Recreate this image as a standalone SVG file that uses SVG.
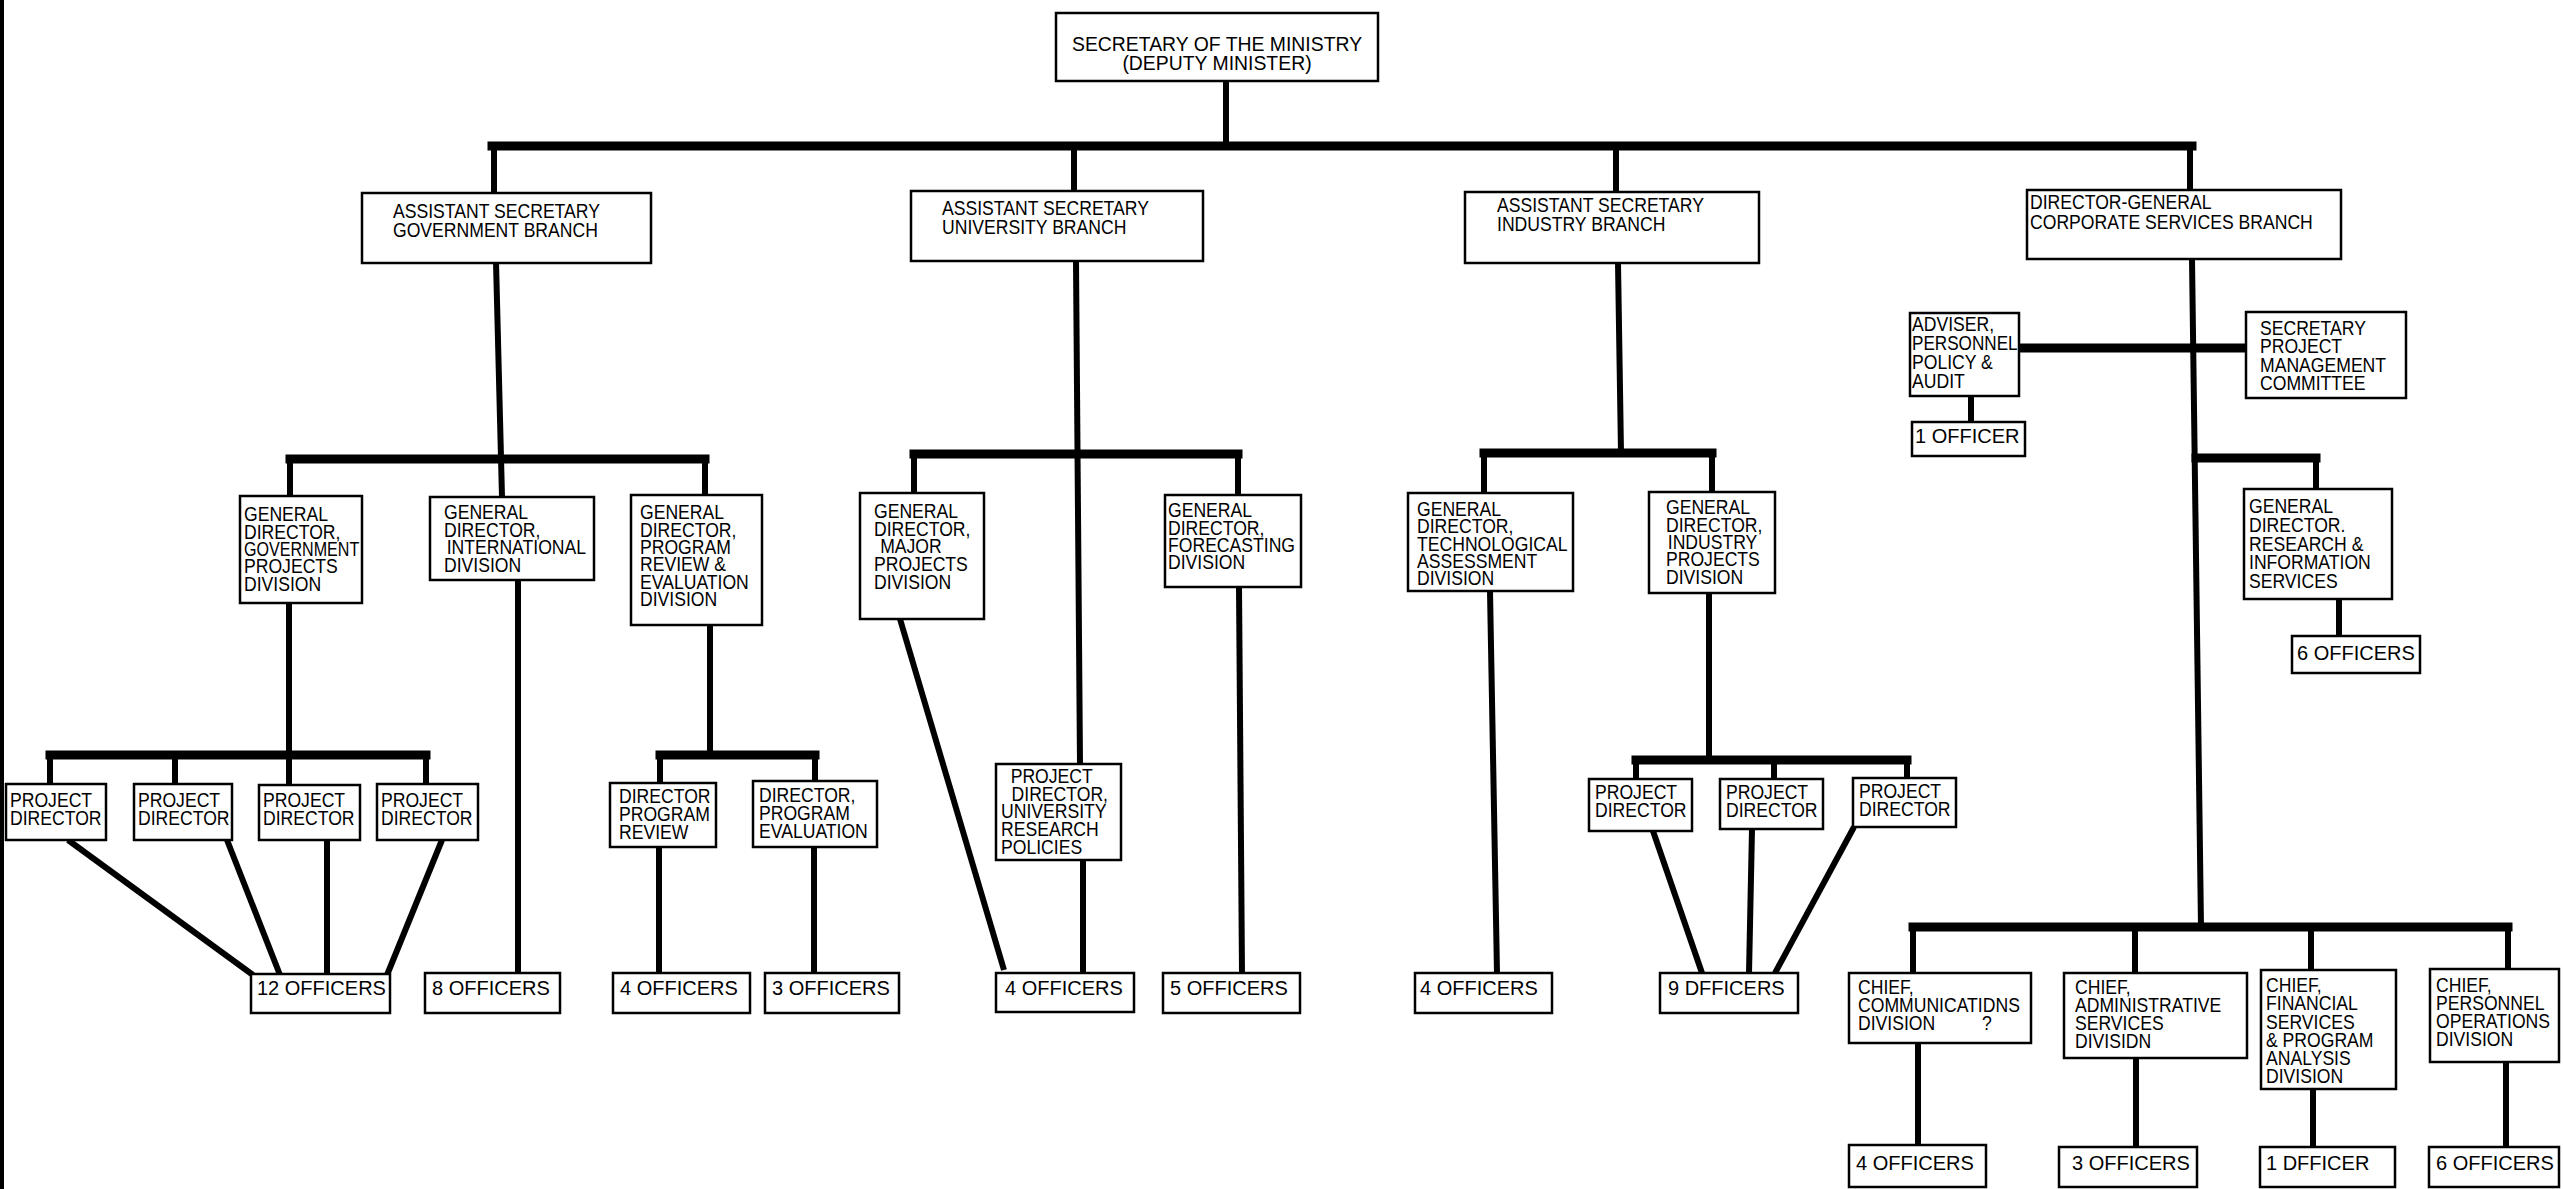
<svg xmlns="http://www.w3.org/2000/svg" width="2563" height="1189" viewBox="0 0 2563 1189">
<style>
.b{fill:#fff;stroke:#000;stroke-width:2.5}
.c{stroke:#000;stroke-width:6;fill:none}
.bus{stroke:#000;stroke-width:9;fill:none;stroke-linecap:square}
.t{font-family:"Liberation Sans",Arial,sans-serif;font-size:20px;fill:#000}
.o{font-family:"Liberation Sans",Arial,sans-serif;font-size:20px;fill:#000}
</style>
<rect x="0" y="0" width="2563" height="1189" fill="#fff"/>
<rect x="0" y="0" width="4" height="1189" fill="#000"/>
<g id="connectors">
<line class="c" x1="1226" y1="81" x2="1226" y2="146"/>
<line class="bus" x1="492" y1="146" x2="2192" y2="146"/>
<line class="c" x1="494" y1="146" x2="494" y2="193"/>
<line class="c" x1="1074" y1="146" x2="1074" y2="191"/>
<line class="c" x1="1616" y1="146" x2="1616" y2="192"/>
<line class="c" x1="2190" y1="146" x2="2190" y2="190"/>
<line class="c" x1="496" y1="262" x2="502" y2="497"/>
<line class="bus" x1="290" y1="459" x2="705" y2="459"/>
<line class="c" x1="290" y1="459" x2="290" y2="496"/>
<line class="c" x1="705" y1="459" x2="705" y2="495"/>
<line class="c" x1="289" y1="603" x2="289" y2="785"/>
<line class="bus" x1="50" y1="755" x2="426" y2="755"/>
<line class="c" x1="50" y1="755" x2="50" y2="784"/>
<line class="c" x1="175" y1="755" x2="175" y2="784"/>
<line class="c" x1="426" y1="755" x2="426" y2="784"/>
<line class="c" x1="518" y1="580" x2="518" y2="973"/>
<line class="c" x1="710" y1="625" x2="710" y2="755"/>
<line class="bus" x1="660" y1="755" x2="815" y2="755"/>
<line class="c" x1="660" y1="755" x2="660" y2="783"/>
<line class="c" x1="815" y1="755" x2="815" y2="781"/>
<line class="c" x1="659" y1="847" x2="659" y2="973"/>
<line class="c" x1="814" y1="847" x2="814" y2="973"/>
<line class="c" x1="68" y1="840" x2="253" y2="975"/>
<line class="c" x1="227" y1="840" x2="280" y2="975"/>
<line class="c" x1="327" y1="840" x2="327" y2="975"/>
<line class="c" x1="442" y1="840" x2="387" y2="975"/>
<line class="c" x1="1076" y1="261" x2="1080" y2="764"/>
<line class="bus" x1="914" y1="454" x2="1238" y2="454"/>
<line class="c" x1="914" y1="454" x2="914" y2="493"/>
<line class="c" x1="1238" y1="454" x2="1238" y2="495"/>
<line class="c" x1="900" y1="619" x2="1004" y2="970"/>
<line class="c" x1="1083" y1="860" x2="1083" y2="973"/>
<line class="c" x1="1239" y1="587" x2="1242" y2="973"/>
<line class="c" x1="1618" y1="263" x2="1621" y2="453"/>
<line class="bus" x1="1484" y1="453" x2="1712" y2="453"/>
<line class="c" x1="1484" y1="453" x2="1484" y2="493"/>
<line class="c" x1="1712" y1="453" x2="1712" y2="492"/>
<line class="c" x1="1490" y1="591" x2="1497" y2="973"/>
<line class="c" x1="1709" y1="593" x2="1709" y2="760"/>
<line class="bus" x1="1636" y1="760" x2="1907" y2="760"/>
<line class="c" x1="1636" y1="760" x2="1636" y2="779"/>
<line class="c" x1="1774" y1="760" x2="1774" y2="779"/>
<line class="c" x1="1907" y1="760" x2="1907" y2="778"/>
<line class="c" x1="1653" y1="831" x2="1702" y2="973"/>
<line class="c" x1="1752" y1="829" x2="1749" y2="973"/>
<line class="c" x1="1854" y1="827" x2="1775" y2="973"/>
<line class="c" x1="2192" y1="259" x2="2201" y2="927"/>
<line class="bus" x1="2019" y1="348" x2="2246" y2="348"/>
<line class="c" x1="1971" y1="396" x2="1971" y2="422"/>
<line class="bus" x1="2196" y1="458" x2="2316" y2="458"/>
<line class="c" x1="2316" y1="458" x2="2316" y2="489"/>
<line class="c" x1="2339" y1="599" x2="2339" y2="636"/>
<line class="bus" x1="1913" y1="927" x2="2508" y2="927"/>
<line class="c" x1="1913" y1="927" x2="1913" y2="973"/>
<line class="c" x1="2135" y1="927" x2="2135" y2="973"/>
<line class="c" x1="2311" y1="927" x2="2311" y2="970"/>
<line class="c" x1="2508" y1="927" x2="2508" y2="969"/>
<line class="c" x1="1918" y1="1043" x2="1918" y2="1145"/>
<line class="c" x1="2136" y1="1058" x2="2136" y2="1147"/>
<line class="c" x1="2313" y1="1089" x2="2313" y2="1147"/>
<line class="c" x1="2506" y1="1062" x2="2506" y2="1147"/>
</g>

<g id="n-secretary"><rect class="b" x="1056" y="13" width="322" height="68"/>
<text class="t" text-anchor="middle" transform="translate(1217,51) scale(.97,1)"><tspan x="0">SECRETARY OF THE MINISTRY</tspan><tspan x="0" dy="19">(DEPUTY MINISTER)</tspan></text></g>

<g id="n-as-gov"><rect class="b" x="362" y="193" width="289" height="70"/>
<text class="t" transform="translate(393,218) scale(.88,1)"><tspan x="0">ASSISTANT SECRETARY</tspan><tspan x="0" dy="19">GOVERNMENT BRANCH</tspan></text></g>
<g id="n-as-uni"><rect class="b" x="911" y="191" width="292" height="70"/>
<text class="t" transform="translate(942,215) scale(.88,1)"><tspan x="0">ASSISTANT SECRETARY</tspan><tspan x="0" dy="19">UNIVERSITY BRANCH</tspan></text></g>
<g id="n-as-ind"><rect class="b" x="1465" y="192" width="294" height="71"/>
<text class="t" transform="translate(1497,212) scale(.88,1)"><tspan x="0">ASSISTANT SECRETARY</tspan><tspan x="0" dy="19">INDUSTRY BRANCH</tspan></text></g>
<g id="n-dg-corp"><rect class="b" x="2027" y="190" width="314" height="69"/>
<text class="t" transform="translate(2030,209) scale(.88,1)"><tspan x="0">DIRECTOR-GENERAL</tspan><tspan x="0" dy="20">CORPORATE SERVICES BRANCH</tspan></text></g>

<g id="n-gd-gov"><rect class="b" x="240" y="496" width="122" height="107"/>
<text class="t" transform="translate(244,521) scale(.88,1)"><tspan x="0">GENERAL</tspan><tspan x="0" dy="17.5">DIRECTOR,</tspan><tspan x="0" dy="17.5" textLength="131" lengthAdjust="spacingAndGlyphs">GOVERNMENT</tspan><tspan x="0" dy="17.5">PROJECTS</tspan><tspan x="0" dy="17.5">DIVISION</tspan></text></g>
<g id="n-gd-intl"><rect class="b" x="430" y="497" width="164" height="83"/>
<text class="t" transform="translate(444,519) scale(.88,1)"><tspan x="0">GENERAL</tspan><tspan x="0" dy="17.7">DIRECTOR,</tspan><tspan x="3" dy="17.7">INTERNATIONAL</tspan><tspan x="0" dy="17.7">DIVISION</tspan></text></g>
<g id="n-gd-prog"><rect class="b" x="631" y="495" width="131" height="130"/>
<text class="t" transform="translate(640,519) scale(.88,1)"><tspan x="0">GENERAL</tspan><tspan x="0" dy="17.5">DIRECTOR,</tspan><tspan x="0" dy="17.5">PROGRAM</tspan><tspan x="0" dy="17.5">REVIEW &amp;</tspan><tspan x="0" dy="17.5">EVALUATION</tspan><tspan x="0" dy="17.5">DIVISION</tspan></text></g>

<g id="n-pd-g1"><rect class="b" x="6" y="784" width="100" height="56"/>
<text class="t" transform="translate(10,807) scale(.88,1)"><tspan x="0">PROJECT</tspan><tspan x="0" dy="17.7">DIRECTOR</tspan></text></g>
<g id="n-pd-g2"><rect class="b" x="134" y="784" width="98" height="56"/>
<text class="t" transform="translate(138,807) scale(.88,1)"><tspan x="0">PROJECT</tspan><tspan x="0" dy="17.7">DIRECTOR</tspan></text></g>
<g id="n-pd-g3"><rect class="b" x="259" y="785" width="101" height="55"/>
<text class="t" transform="translate(263,807) scale(.88,1)"><tspan x="0">PROJECT</tspan><tspan x="0" dy="17.7">DIRECTOR</tspan></text></g>
<g id="n-pd-g4"><rect class="b" x="377" y="784" width="101" height="56"/>
<text class="t" transform="translate(381,807) scale(.88,1)"><tspan x="0">PROJECT</tspan><tspan x="0" dy="17.7">DIRECTOR</tspan></text></g>
<g id="n-dir-rev"><rect class="b" x="610" y="783" width="106" height="64"/>
<text class="t" transform="translate(619,803) scale(.88,1)"><tspan x="0">DIRECTOR</tspan><tspan x="0" dy="18">PROGRAM</tspan><tspan x="0" dy="18">REVIEW</tspan></text></g>
<g id="n-dir-eval"><rect class="b" x="753" y="781" width="124" height="66"/>
<text class="t" transform="translate(759,802) scale(.88,1)"><tspan x="0">DIRECTOR,</tspan><tspan x="0" dy="18">PROGRAM</tspan><tspan x="0" dy="18">EVALUATION</tspan></text></g>

<g id="n-off12"><rect class="b" x="251" y="974" width="139" height="39"/><text class="o" x="257" y="995">12 OFFICERS</text></g>
<g id="n-off8"><rect class="b" x="425" y="973" width="135" height="40"/><text class="o" x="432" y="995">8 OFFICERS</text></g>
<g id="n-off4a"><rect class="b" x="613" y="973" width="137" height="40"/><text class="o" x="620" y="995">4 OFFICERS</text></g>
<g id="n-off3a"><rect class="b" x="765" y="973" width="134" height="40"/><text class="o" x="772" y="995">3 OFFICERS</text></g>

<g id="n-gd-major"><rect class="b" x="860" y="493" width="124" height="126"/>
<text class="t" transform="translate(874,518) scale(.88,1)"><tspan x="0">GENERAL</tspan><tspan x="0" dy="17.7">DIRECTOR,</tspan><tspan x="7" dy="17.7">MAJOR</tspan><tspan x="0" dy="17.7">PROJECTS</tspan><tspan x="0" dy="17.7">DIVISION</tspan></text></g>
<g id="n-gd-fore"><rect class="b" x="1165" y="495" width="136" height="92"/>
<text class="t" transform="translate(1168,517) scale(.88,1)"><tspan x="0">GENERAL</tspan><tspan x="0" dy="17.5">DIRECTOR,</tspan><tspan x="0" dy="17.5">FORECASTING</tspan><tspan x="0" dy="17.5">DIVISION</tspan></text></g>
<g id="n-pd-uni"><rect class="b" x="996" y="764" width="125" height="96"/>
<text class="t" transform="translate(1001,783) scale(.88,1)"><tspan x="11">PROJECT</tspan><tspan x="12" dy="17.7">DIRECTOR,</tspan><tspan x="0" dy="17.7">UNIVERSITY</tspan><tspan x="0" dy="17.7">RESEARCH</tspan><tspan x="0" dy="17.7">POLICIES</tspan></text></g>
<g id="n-off4b"><rect class="b" x="996" y="973" width="138" height="39"/><text class="o" x="1005" y="995">4 OFFICERS</text></g>
<g id="n-off5"><rect class="b" x="1163" y="973" width="137" height="40"/><text class="o" x="1170" y="995">5 OFFICERS</text></g>

<g id="n-gd-tech"><rect class="b" x="1408" y="493" width="165" height="98"/>
<text class="t" transform="translate(1417,516) scale(.88,1)"><tspan x="0">GENERAL</tspan><tspan x="0" dy="17.3">DIRECTOR,</tspan><tspan x="0" dy="17.3">TECHNOLOGICAL</tspan><tspan x="0" dy="17.3">ASSESSMENT</tspan><tspan x="0" dy="17.3">DIVISION</tspan></text></g>
<g id="n-gd-indp"><rect class="b" x="1649" y="492" width="126" height="101"/>
<text class="t" transform="translate(1666,514) scale(.88,1)"><tspan x="0">GENERAL</tspan><tspan x="0" dy="17.5">DIRECTOR,</tspan><tspan x="2" dy="17.5">INDUSTRY</tspan><tspan x="0" dy="17.5">PROJECTS</tspan><tspan x="0" dy="17.5">DIVISION</tspan></text></g>
<g id="n-pd-i1"><rect class="b" x="1589" y="779" width="103" height="52"/>
<text class="t" transform="translate(1595,799) scale(.88,1)"><tspan x="0">PROJECT</tspan><tspan x="0" dy="17.7">DIRECTOR</tspan></text></g>
<g id="n-pd-i2"><rect class="b" x="1720" y="779" width="103" height="50"/>
<text class="t" transform="translate(1726,799) scale(.88,1)"><tspan x="0">PROJECT</tspan><tspan x="0" dy="17.7">DIRECTOR</tspan></text></g>
<g id="n-pd-i3"><rect class="b" x="1853" y="778" width="103" height="49"/>
<text class="t" transform="translate(1859,798) scale(.88,1)"><tspan x="0">PROJECT</tspan><tspan x="0" dy="17.7">DIRECTOR</tspan></text></g>
<g id="n-off4c"><rect class="b" x="1415" y="973" width="137" height="40"/><text class="o" x="1420" y="995">4 OFFICERS</text></g>
<g id="n-off9"><rect class="b" x="1660" y="973" width="138" height="40"/><text class="o" x="1668" y="995">9 DFFICERS</text></g>

<g id="n-adviser"><rect class="b" x="1910" y="313" width="109" height="83"/>
<text class="t" transform="translate(1912,331) scale(.88,1)"><tspan x="0">ADVISER,</tspan><tspan x="0" dy="19" textLength="120" lengthAdjust="spacingAndGlyphs">PERSONNEL</tspan><tspan x="0" dy="19">POLICY &amp;</tspan><tspan x="0" dy="19">AUDIT</tspan></text></g>
<g id="n-sec-pmc"><rect class="b" x="2246" y="312" width="160" height="86"/>
<text class="t" transform="translate(2260,335) scale(.88,1)"><tspan x="0">SECRETARY</tspan><tspan x="0" dy="18.5">PROJECT</tspan><tspan x="0" dy="18.5">MANAGEMENT</tspan><tspan x="0" dy="18.5">COMMITTEE</tspan></text></g>
<g id="n-off1a"><rect class="b" x="1912" y="422" width="113" height="34"/><text class="o" x="1915" y="443">1 OFFICER</text></g>
<g id="n-gd-res"><rect class="b" x="2244" y="489" width="148" height="110"/>
<text class="t" transform="translate(2249,513) scale(.88,1)"><tspan x="0">GENERAL</tspan><tspan x="0" dy="18.8">DIRECTOR.</tspan><tspan x="0" dy="18.8">RESEARCH &amp;</tspan><tspan x="0" dy="18.8">INFORMATION</tspan><tspan x="0" dy="18.8">SERVICES</tspan></text></g>
<g id="n-off6a"><rect class="b" x="2292" y="636" width="128" height="37"/><text class="o" x="2297" y="660">6 OFFICERS</text></g>

<g id="n-chief-comm"><rect class="b" x="1849" y="973" width="182" height="70"/>
<text class="t" transform="translate(1858,994) scale(.88,1)"><tspan x="0">CHIEF,</tspan><tspan x="0" dy="18">COMMUNICATIDNS</tspan><tspan x="0" dy="18">DIVISION</tspan><tspan x="141">?</tspan></text></g>
<g id="n-chief-admin"><rect class="b" x="2064" y="973" width="183" height="85"/>
<text class="t" transform="translate(2075,994) scale(.88,1)"><tspan x="0">CHIEF,</tspan><tspan x="0" dy="18">ADMINISTRATIVE</tspan><tspan x="0" dy="18">SERVICES</tspan><tspan x="0" dy="18">DIVISIDN</tspan></text></g>
<g id="n-chief-fin"><rect class="b" x="2261" y="970" width="135" height="119"/>
<text class="t" transform="translate(2266,992) scale(.88,1)"><tspan x="0">CHIEF,</tspan><tspan x="0" dy="18.3">FINANCIAL</tspan><tspan x="0" dy="18.3">SERVICES</tspan><tspan x="0" dy="18.3">&amp; PROGRAM</tspan><tspan x="0" dy="18.3">ANALYSIS</tspan><tspan x="0" dy="18.3">DIVISION</tspan></text></g>
<g id="n-chief-pers"><rect class="b" x="2430" y="969" width="129" height="93"/>
<text class="t" transform="translate(2436,992) scale(.88,1)"><tspan x="0">CHIEF,</tspan><tspan x="0" dy="18">PERSONNEL</tspan><tspan x="0" dy="18">OPERATIONS</tspan><tspan x="0" dy="18">DIVISION</tspan></text></g>
<g id="n-off4d"><rect class="b" x="1849" y="1145" width="137" height="42"/><text class="o" x="1856" y="1170">4 OFFICERS</text></g>
<g id="n-off3b"><rect class="b" x="2059" y="1147" width="138" height="40"/><text class="o" x="2072" y="1170">3 OFFICERS</text></g>
<g id="n-off1b"><rect class="b" x="2260" y="1147" width="135" height="40"/><text class="o" x="2266" y="1170">1 DFFICER</text></g>
<g id="n-off6b"><rect class="b" x="2429" y="1147" width="130" height="40"/><text class="o" x="2436" y="1170">6 OFFICERS</text></g>
</svg>
